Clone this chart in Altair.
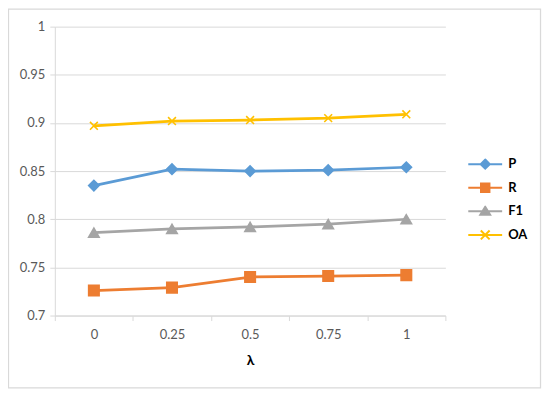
import altair as alt
import pandas as pd

lambdas = ["0", "0.25", "0.5", "0.75", "1"]
series_names = ["P", "R", "F1", "OA"]
P = [0.835, 0.852, 0.850, 0.851, 0.854]
R = [0.726, 0.729, 0.740, 0.741, 0.742]
F1 = [0.786, 0.790, 0.792, 0.795, 0.800]
OA = [0.897, 0.902, 0.903, 0.905, 0.909]
colors = ["#5B9BD5", "#ED7D31", "#A5A5A5", "#FFC000"]
y_ticks = [0.7, 0.75, 0.8, 0.85, 0.9, 0.95, 1.0]

rows = []
for name, vals in zip(series_names, [P, R, F1, OA]):
    for lam, v in zip(lambdas, vals):
        rows.append({"lam": lam, "series": name, "value": v})
df = pd.DataFrame(rows)

W, H = 392, 290
PAD = {"left": 47, "top": 18, "right": 97, "bottom": 74}
FONT = "Lato"
GRID = "#d9d9d9"

x_enc = alt.X(
    "lam:O",
    sort=lambdas,
    scale=alt.Scale(type="band", paddingInner=0, paddingOuter=0),
    axis=alt.Axis(
        title="λ", titleFont=FONT, titleFontSize=14, titleFontWeight="bold",
        titleColor="#000000", titlePadding=12,
        labelAngle=0, labelFont=FONT, labelFontSize=13, labelColor="#595959",
        labelPadding=8, tickBand="extent", tickSize=5, tickColor=GRID,
        domainColor=GRID, domainWidth=1, grid=False,
    ),
)
y_enc = alt.Y(
    "value:Q",
    scale=alt.Scale(domain=[0.7, 1.0], nice=False, zero=False),
    axis=alt.Axis(
        title=None, values=y_ticks, format=".2~f",
        labelFont=FONT, labelFontSize=13, labelColor="#595959", labelPadding=5,
        tickSize=5, tickColor=GRID, domainColor=GRID, gridColor=GRID, gridWidth=1,
    ),
)

cscale = alt.Scale(domain=series_names, range=colors)

lines = alt.Chart(df).mark_line(strokeWidth=2.75).encode(
    x=x_enc, y=y_enc,
    color=alt.Color("series:N", scale=cscale, legend=None),
)

marker_shapes = [
    "diamond",
    "square",
    "triangle-up",
    "M-0.75,-0.75L0.75,0.75M-0.75,0.75L0.75,-0.75",
]
points = alt.Chart(df).mark_point(filled=True, opacity=1, size=110, strokeWidth=1.6).encode(
    x=x_enc, y=y_enc,
    color=alt.Color("series:N", scale=cscale, legend=None),
    stroke=alt.Stroke("series:N", scale=cscale, legend=None),
    shape=alt.Shape("series:N", scale=alt.Scale(domain=series_names, range=marker_shapes), legend=None),
)

legend_paths = [
    "M-1,0H1M0,-0.27L0.27,0L0,0.27L-0.27,0Z",
    "M-1,0H1M-0.25,-0.25H0.25V0.25H-0.25Z",
    "M-1,0H1M0,-0.27L0.29,0.2H-0.29Z",
    "M-1,0H1M-0.26,-0.26L0.26,0.26M-0.26,0.26L0.26,-0.26",
]
leg = alt.Legend(
    title=None, orient="none", legendX=414, legendY=132, padding=0,
    symbolSize=1156, symbolStrokeWidth=2, labelOffset=5,
    labelFont=FONT, labelFontSize=13, labelFontWeight="bold", labelColor="#000000",
    clipHeight=12, rowPadding=10.7,
)
legend_layer = alt.Chart(df).mark_point(filled=True, opacity=1, size=1156, strokeWidth=2).encode(
    x=x_enc, y=y_enc,
    color=alt.Color("series:N", scale=cscale, legend=leg),
    stroke=alt.Stroke("series:N", scale=cscale, legend=leg),
    shape=alt.Shape("series:N", scale=alt.Scale(domain=series_names, range=legend_paths), legend=leg),
).transform_filter("false")

frame = alt.Chart(alt.Data(values=[{"a": 1}])).mark_rect(
    fill=None, stroke="#d9d9d9", strokeWidth=1.25
).encode(
    x=alt.value(-46.5), x2=alt.value(W + PAD["right"] - 1.5),
    y=alt.value(-17.5), y2=alt.value(H + PAD["bottom"] - 1.5),
)

chart = alt.layer(frame, lines, points, legend_layer).resolve_scale(
    color="independent", shape="independent", stroke="independent"
).properties(
    width=W, height=H,
    autosize=alt.AutoSizeParams(type="none"),
    padding=PAD,
    background="white",
).configure_view(stroke=None)

chart.save("out.html", embed_options={"renderer": "svg", "actions": False})
